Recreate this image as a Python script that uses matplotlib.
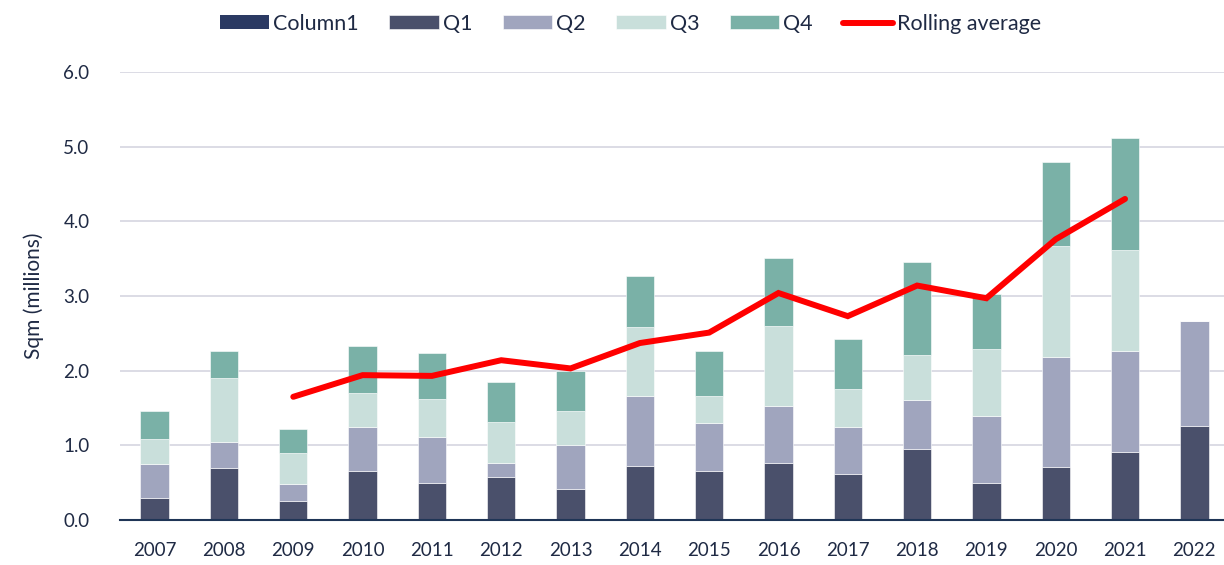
import numpy as np
import matplotlib.pyplot as plt

plt.rcParams['font.family'] = ['Lato', 'DejaVu Sans']

# Data (millions of sqm)
years = ['2007', '2008', '2009', '2010', '2011', '2012', '2013', '2014',
         '2015', '2016', '2017', '2018', '2019', '2020', '2021', '2022']
column1 = [0] * 16
q1 = [0.29, 0.69, 0.25, 0.66, 0.49, 0.57, 0.41, 0.72, 0.66, 0.77, 0.62, 0.95, 0.50, 0.71, 0.91, 1.26]
q2 = [0.46, 0.36, 0.23, 0.59, 0.62, 0.20, 0.60, 0.94, 0.64, 0.76, 0.62, 0.66, 0.89, 1.47, 1.35, 1.40]
q3 = [0.34, 0.85, 0.42, 0.45, 0.51, 0.54, 0.45, 0.93, 0.36, 1.07, 0.52, 0.60, 0.90, 1.49, 1.36, 0]
q4 = [0.37, 0.36, 0.32, 0.63, 0.61, 0.54, 0.53, 0.68, 0.60, 0.91, 0.66, 1.24, 0.74, 1.12, 1.49, 0]
rolling = [None, None, 1.65, 1.94, 1.93, 2.14, 2.03, 2.37, 2.51, 3.04, 2.73, 3.14, 2.97, 3.76, 4.30, None]

text_col = '#1F2A44'
colors = {'Column1': '#2B3A63', 'Q1': '#4A506B', 'Q2': '#A0A5BE',
          'Q3': '#C9DFDB', 'Q4': '#7AB1A7'}

fig = plt.figure(figsize=(12.24, 5.65), dpi=100)
ax = fig.add_axes([120 / 1224, 45 / 565, 1109 / 1224, 448 / 565])

x = np.arange(len(years))
w = 0.41
handles = []
handles.append(ax.bar(x, column1, w, color=colors['Column1'], label='Column1'))
bottom = np.zeros(len(years))
for name, vals in [('Q1', q1), ('Q2', q2), ('Q3', q3), ('Q4', q4)]:
    b = ax.bar(x, vals, w, bottom=bottom, color=colors[name], label=name,
               edgecolor='white', linewidth=0.4, zorder=2)
    handles.append(b)
    bottom += np.array(vals)

roll = np.array([np.nan if v is None else v for v in rolling], dtype=float)
line, = ax.plot(x, roll, color='#FF0000', lw=4.3, solid_capstyle='round',
                solid_joinstyle='miter', label='Rolling average', zorder=3)
handles.append(line)

ax.set_xlim(-0.5, 15.5)
ax.set_ylim(0, 6.0)
ax.set_yticks(np.arange(0, 6.01, 1.0))
ax.set_yticklabels([f'{v:.1f}' for v in np.arange(0, 6.01, 1.0)])
ax.set_xticks(x)
ax.set_xticklabels(years)
ax.grid(axis='y', color='#D9D9E3', lw=1.3, zorder=0)
ax.set_axisbelow(True)
for s in ['top', 'right', 'left']:
    ax.spines[s].set_visible(False)
ax.spines['bottom'].set_color('#1F3556')
ax.spines['bottom'].set_linewidth(1.5)
ax.tick_params(length=0, labelsize=13.5, colors=text_col, pad=16)
ax.tick_params(axis='y', pad=22)
ax.set_ylabel('Sqm (millions)', fontsize=15, color=text_col, labelpad=14)

fig.legend(handles=handles, labels=[h.get_label() for h in handles],
           loc='upper center', bbox_to_anchor=(0.515, 1.01), ncol=6,
           frameon=False, fontsize=15.5, labelcolor=text_col,
           handlelength=2.3, handleheight=0.6, columnspacing=1.4, handletextpad=0.2)

fig.savefig('out.png', dpi=100)
